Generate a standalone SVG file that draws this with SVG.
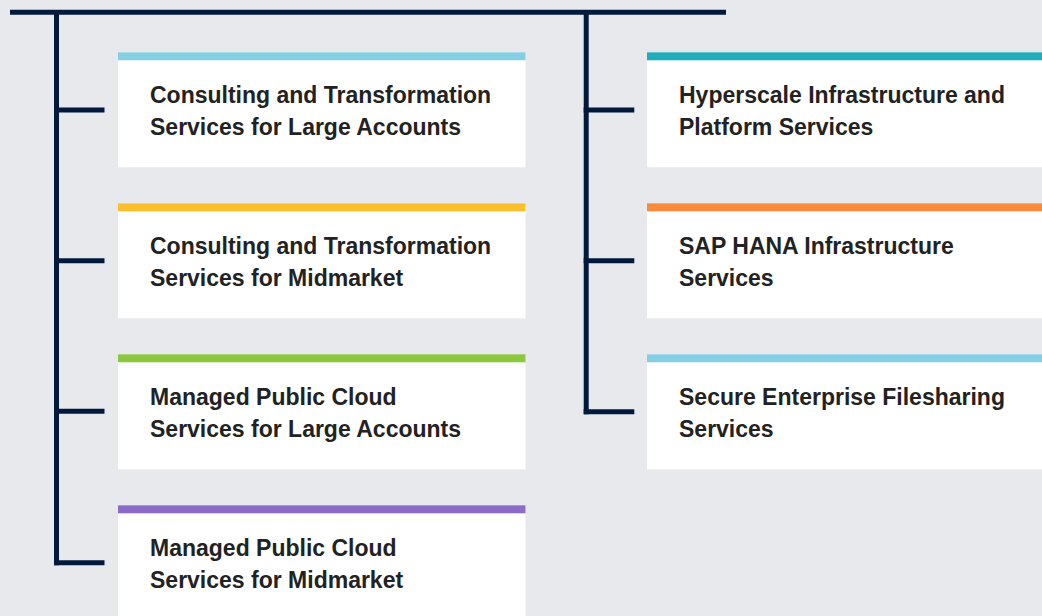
<svg xmlns="http://www.w3.org/2000/svg" width="1042" height="616" viewBox="0 0 1042 616">
<style>
.bg{fill:#e8e9ed}
.card{fill:#ffffff}
.ln{stroke:#011a3c;stroke-width:5;fill:none;stroke-linecap:butt}
.t{font-family:"Liberation Sans",Arial,sans-serif;font-weight:700;font-size:23px;fill:#222222}
</style>
<rect class="bg" x="0" y="0" width="1042" height="616"/>
<g id="connectors">
<line class="ln" x1="10" y1="12.3" x2="726" y2="12.3"/>
<line class="ln" x1="56.5" y1="12" x2="56.5" y2="565.2"/>
<line class="ln" x1="54" y1="110" x2="104.5" y2="110"/>
<line class="ln" x1="54" y1="260.7" x2="104.5" y2="260.7"/>
<line class="ln" x1="54" y1="411.3" x2="104.5" y2="411.3"/>
<line class="ln" x1="54" y1="562.7" x2="104.5" y2="562.7"/>
<line class="ln" x1="586.2" y1="12" x2="586.2" y2="414.2"/>
<line class="ln" x1="583.7" y1="110" x2="634.3" y2="110"/>
<line class="ln" x1="583.7" y1="260.7" x2="634.3" y2="260.7"/>
<line class="ln" x1="583.7" y1="411.7" x2="634.3" y2="411.7"/>
</g>
<g id="node-consulting-large">
<rect class="card" x="118" y="52.3" width="407.5" height="115"/>
<rect x="118" y="52.3" width="407.5" height="8" fill="#86cfe2"/>
<text class="t" x="150" y="103">Consulting and Transformation</text>
<text class="t" x="150" y="135">Services for Large Accounts</text>
</g>
<g id="node-consulting-mid">
<rect class="card" x="118" y="203.3" width="407.5" height="115"/>
<rect x="118" y="203.3" width="407.5" height="8" fill="#fbbf2c"/>
<text class="t" x="150" y="254">Consulting and Transformation</text>
<text class="t" x="150" y="286">Services for Midmarket</text>
</g>
<g id="node-managed-large">
<rect class="card" x="118" y="354.3" width="407.5" height="115"/>
<rect x="118" y="354.3" width="407.5" height="8" fill="#8dc63f"/>
<text class="t" x="150" y="405">Managed Public Cloud</text>
<text class="t" x="150" y="437">Services for Large Accounts</text>
</g>
<g id="node-managed-mid">
<rect class="card" x="118" y="505.3" width="407.5" height="115"/>
<rect x="118" y="505.3" width="407.5" height="8" fill="#8c6cc8"/>
<text class="t" x="150" y="556">Managed Public Cloud</text>
<text class="t" x="150" y="588">Services for Midmarket</text>
</g>
<g id="node-hyperscale">
<rect class="card" x="647" y="52.3" width="400" height="115"/>
<rect x="647" y="52.3" width="400" height="8" fill="#20adba"/>
<text class="t" x="679" y="103">Hyperscale Infrastructure and</text>
<text class="t" x="679" y="135">Platform Services</text>
</g>
<g id="node-sap-hana">
<rect class="card" x="647" y="203.3" width="400" height="115"/>
<rect x="647" y="203.3" width="400" height="8" fill="#fb8a3c"/>
<text class="t" x="679" y="254">SAP HANA Infrastructure</text>
<text class="t" x="679" y="286">Services</text>
</g>
<g id="node-filesharing">
<rect class="card" x="647" y="354.3" width="400" height="115"/>
<rect x="647" y="354.3" width="400" height="8" fill="#86cfe2"/>
<text class="t" x="679" y="405">Secure Enterprise Filesharing</text>
<text class="t" x="679" y="437">Services</text>
</g>
</svg>
